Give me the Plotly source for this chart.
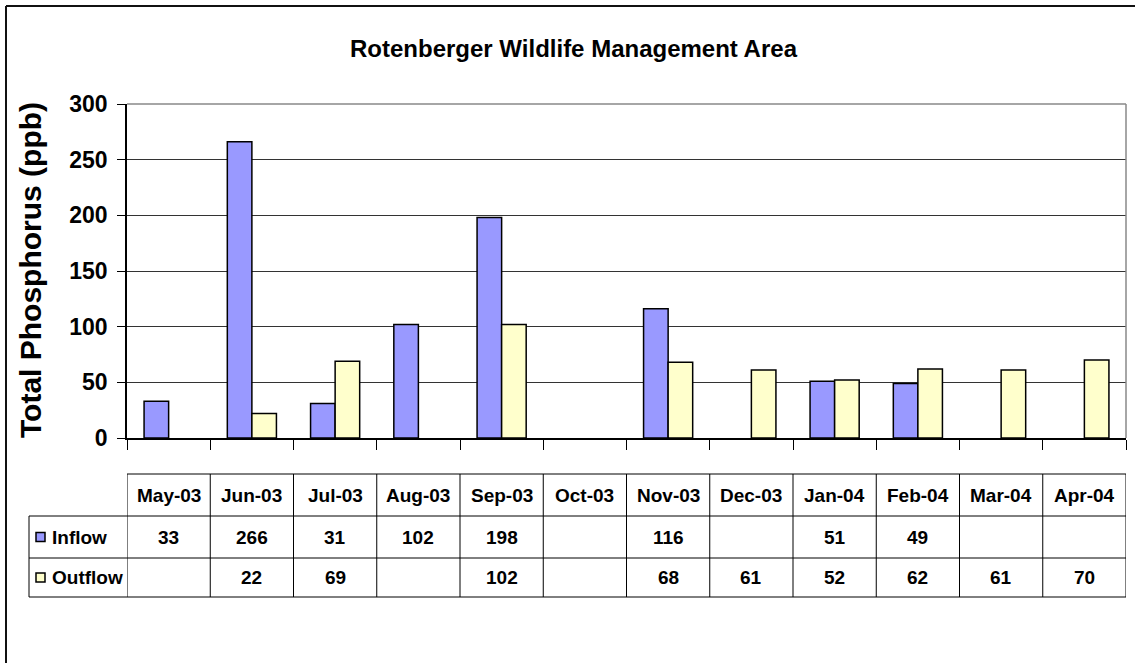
import plotly.graph_objects as go

# Monthly total phosphorus samples (ppb)
months = ["May-03", "Jun-03", "Jul-03", "Aug-03", "Sep-03", "Oct-03",
          "Nov-03", "Dec-03", "Jan-04", "Feb-04", "Mar-04", "Apr-04"]
inflow = [33, 266, 31, 102, 198, None, 116, None, 51, 49, None, None]
outflow = [None, 22, 69, None, 102, None, 68, 61, 52, 62, 61, 70]
y_ticks = [0, 50, 100, 150, 200, 250, 300]

W, H = 1135, 663
FONT = "Arial, Liberation Sans, sans-serif"
INFLOW_COLOR = "#9999FF"
OUTFLOW_COLOR = "#FFFFCC"

# plot area in pixels
PL, PR, PT, PB = 127, 1126, 104, 438


def px(x):
    return x / W


def py(y):
    return 1 - y / H


fig = go.Figure()
fig.add_trace(go.Bar(x=months, y=inflow, name="Inflow",
                     marker=dict(color=INFLOW_COLOR, line=dict(color="black", width=1.5))))
fig.add_trace(go.Bar(x=months, y=outflow, name="Outflow",
                     marker=dict(color=OUTFLOW_COLOR, line=dict(color="black", width=1.5))))

shapes = []
annotations = []

# outer chart frame
shapes.append(dict(type="line", xref="paper", yref="paper", x0=px(6), x1=px(1140),
                   y0=py(6), y1=py(6), line=dict(color="#111", width=2)))
shapes.append(dict(type="line", xref="paper", yref="paper", x0=px(6), x1=px(6),
                   y0=py(6), y1=py(670), line=dict(color="#111", width=2)))

# plot area border (top and right)
shapes.append(dict(type="line", xref="paper", yref="paper", x0=px(PL), x1=px(PR),
                   y0=py(PT), y1=py(PT), line=dict(color="#888", width=1.5)))
shapes.append(dict(type="line", xref="paper", yref="paper", x0=px(PR), x1=px(PR),
                   y0=py(PT), y1=py(PB), line=dict(color="#888", width=1.5)))

# data table below the chart
T_TOP, R1, R2, T_BOT = 474, 516, 558, 597
LEG_L = 29
n = len(months)
line_style = dict(color="black", width=1)


def hline(x0_cat, x1_cat, y, x0_paper=None):
    if x0_paper is not None:
        return dict(type="line", xref="paper", yref="paper", x0=x0_paper, x1=px(PR),
                    y0=py(y), y1=py(y), line=line_style)
    return dict(type="line", xref="x", yref="paper", x0=x0_cat, x1=x1_cat,
                y0=py(y), y1=py(y), line=line_style)


shapes.append(hline(-0.5, n - 0.5, T_TOP))
for y in (R1, R2, T_BOT):
    shapes.append(hline(None, None, y, x0_paper=px(LEG_L)))
shapes.append(dict(type="line", xref="paper", yref="paper", x0=px(LEG_L), x1=px(LEG_L),
                   y0=py(R1), y1=py(T_BOT), line=line_style))
for i in range(n + 1):
    shapes.append(dict(type="line", xref="x", yref="paper", x0=i - 0.5, x1=i - 0.5,
                       y0=py(T_TOP), y1=py(T_BOT), line=line_style))

cell_font = dict(family=FONT, size=19, color="black", weight="bold")


def cell(x, xref, y, text, xanchor="center"):
    return dict(x=x, xref=xref, y=py(y), yref="paper", text=text, showarrow=False,
                xanchor=xanchor, yanchor="middle", font=cell_font)


for i, m in enumerate(months):
    annotations.append(cell(m, "x", (T_TOP + R1) / 2, m))
    if inflow[i] is not None:
        annotations.append(cell(m, "x", (R1 + R2) / 2, str(inflow[i])))
    if outflow[i] is not None:
        annotations.append(cell(m, "x", (R2 + T_BOT) / 2, str(outflow[i])))

# legend keys inside the table
for (label, color, y0, y1) in (("Inflow", INFLOW_COLOR, R1, R2),
                               ("Outflow", OUTFLOW_COLOR, R2, T_BOT)):
    cy = (y0 + y1) / 2
    shapes.append(dict(type="rect", xref="paper", yref="paper",
                       x0=px(36), x1=px(45), y0=py(cy - 4.5), y1=py(cy + 4.5),
                       fillcolor=color, line=dict(color="black", width=1.5)))
    annotations.append(cell(px(50), "paper", cy, label, xanchor="left"))

# chart title
annotations.append(dict(x=px(574), xref="paper", y=py(49), yref="paper",
                        xanchor="center", yanchor="middle",
                        text="Rotenberger Wildlife Management Area", showarrow=False,
                        font=dict(family=FONT, size=24, color="black", weight="bold")))

# y-axis title
annotations.append(dict(x=px(30), xref="paper", y=py(270), yref="paper",
                        xanchor="center", yanchor="middle",
                        text="Total Phosphorus (ppb)", textangle=-90, showarrow=False,
                        font=dict(family=FONT, size=30, color="black", weight="bold")))

fig.update_layout(
    template="none",
    width=W, height=H,
    margin=dict(l=0, r=0, t=0, b=0, pad=0, autoexpand=False),
    paper_bgcolor="white", plot_bgcolor="white",
    barmode="group", bargap=0.41, bargroupgap=0,
    showlegend=False,
    shapes=shapes, annotations=annotations,
    xaxis=dict(domain=[px(PL), px(PR)], type="category", categoryorder="array",
               categoryarray=months, showticklabels=False, ticks="outside",
               tickson="boundaries", ticklen=10, tickcolor="black", tickwidth=1,
               showline=True, linecolor="black", linewidth=1.5, showgrid=False,
               automargin=False, range=[-0.5, n - 0.5], fixedrange=True),
    yaxis=dict(domain=[py(PB), py(PT)], range=[0, 300], tickvals=y_ticks,
               ticks="outside", ticklen=8, tickcolor="black", tickwidth=1,
               showline=True, linecolor="black", linewidth=1.5,
               showgrid=True, gridcolor="#333", gridwidth=1, zeroline=False,
               automargin=False, ticklabelstandoff=5,
               tickfont=dict(family=FONT, size=23, color="black", weight="bold"),
               fixedrange=True),
)

fig.write_html("out.html")
